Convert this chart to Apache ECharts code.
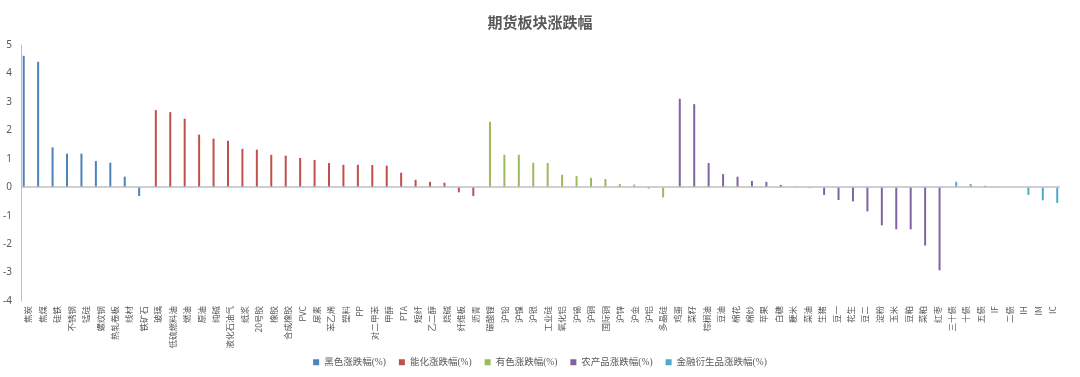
<!DOCTYPE html>
<html>
<head>
<meta charset="utf-8">
<script src="https://cdn.jsdelivr.net/npm/echarts@6/dist/echarts.min.js"></script>
<style>html,body{margin:0;padding:0;background:#fff;}#c{width:1080px;height:377px;}</style>
</head>
<body>
<div id="c"></div>
<script>
const blackCats = ['焦炭','焦煤','硅铁','不锈钢','锰硅','螺纹钢','热轧卷板','线材','铁矿石'];
const blackVals = [4.62,4.41,1.40,1.18,1.18,0.92,0.86,0.37,-0.31];
const chemCats = ['玻璃','低硫燃料油','燃油','原油','纯碱','液化石油气','纸浆','20号胶','橡胶','合成橡胶','PVC','尿素','苯乙烯','塑料','PP','对二甲苯','甲醇','PTA','短纤','乙二醇','烧碱','纤维板','沥青'];
const chemVals = [2.71,2.64,2.41,1.85,1.71,1.63,1.35,1.32,1.14,1.11,1.03,0.96,0.85,0.79,0.79,0.78,0.76,0.51,0.26,0.19,0.16,-0.18,-0.31];
const metalCats = ['碳酸锂','沪铅','沪镍','沪银','工业硅','氧化铝','沪锡','沪铜','国际铜','沪锌','沪金','沪铝','多晶硅'];
const metalVals = [2.30,1.14,1.14,0.86,0.85,0.44,0.39,0.33,0.29,0.11,0.09,-0.05,-0.36];
const agriCats = ['鸡蛋','菜籽','棕榈油','豆油','棉花','棉纱','苹果','白糖','粳米','菜油','生猪','豆一','花生','豆二','淀粉','玉米','豆粕','菜粕','红枣'];
const agriVals = [3.11,2.92,0.85,0.46,0.37,0.22,0.19,0.08,0.02,-0.03,-0.27,-0.45,-0.50,-0.85,-1.34,-1.48,-1.48,-2.05,-2.92];
const finCats = ['三十债','十债','五债','IF','二债','IH','IM','IC'];
const finVals = [0.19,0.11,0.05,0.01,0,-0.27,-0.46,-0.55];
const yTicks = [-4,-3,-2,-1,0,1,2,3,4,5];

const groups = [
  {name:'黑色涨跌幅(%)', cats:blackCats, vals:blackVals, color:'#4F81BD'},
  {name:'能化涨跌幅(%)', cats:chemCats, vals:chemVals, color:'#C0504D'},
  {name:'有色涨跌幅(%)', cats:metalCats, vals:metalVals, color:'#9BBB59'},
  {name:'农产品涨跌幅(%)', cats:agriCats, vals:agriVals, color:'#8064A2'},
  {name:'金融衍生品涨跌幅(%)', cats:finCats, vals:finVals, color:'#4BACC6'}
];
const categories = [].concat(...groups.map(g => g.cats));
const total = categories.length;
let offset = 0;
const series = groups.map((g, gi) => {
  const data = new Array(total).fill(null);
  g.vals.forEach((v, i) => { data[offset + i] = v; });
  offset += g.cats.length;
  const s = {
    name: g.name, type: 'bar', data: data,
    barWidth: 2, barGap: '11%',
    itemStyle: {color: g.color},
    silent: true
  };
  if (gi === 0) {
    s.markLine = {
      silent: true, symbol: 'none', label: {show: false},
      lineStyle: {color: '#BFBFBF', width: 1.5, type: 'solid'},
      data: [{yAxis: 0}]
    };
  }
  return s;
});

const chart = echarts.init(document.getElementById('c'));
chart.setOption({
  animation: false,
  backgroundColor: '#fff',
  title: {
    text: '期货板块涨跌幅', left: 'center', top: 10,
    textStyle: {fontSize: 15, fontWeight: 'bold', color: '#595959', fontFamily: 'Noto Sans CJK SC'}
  },
  legend: {
    bottom: 5, left: 'center', icon: 'rect', itemWidth: 6, itemHeight: 6, itemGap: 13,
    data: groups.map(g => g.name),
    textStyle: {fontSize: 9.5, color: '#595959', fontFamily: '"Liberation Serif", "Noto Sans CJK SC"'}
  },
  grid: {left: 20, right: 20, top: 45, bottom: 76, containLabel: false},
  xAxis: {
    type: 'category', data: categories,
    axisLine: {show: false, onZero: false},
    axisTick: {show: false},
    axisLabel: {interval: 0, rotate: 90, fontSize: 8.5, color: '#595959', margin: 5, fontFamily: 'Noto Sans CJK SC'}
  },
  yAxis: {
    type: 'value', min: yTicks[0], max: yTicks[yTicks.length - 1], interval: 1,
    splitLine: {show: false},
    axisTick: {show: false},
    axisLine: {show: true, lineStyle: {color: '#BFBFBF', width: 1}},
    axisLabel: {fontSize: 10, color: '#595959', margin: 9, fontFamily: 'Noto Sans'}
  },
  series: series
});
</script>
</body>
</html>
